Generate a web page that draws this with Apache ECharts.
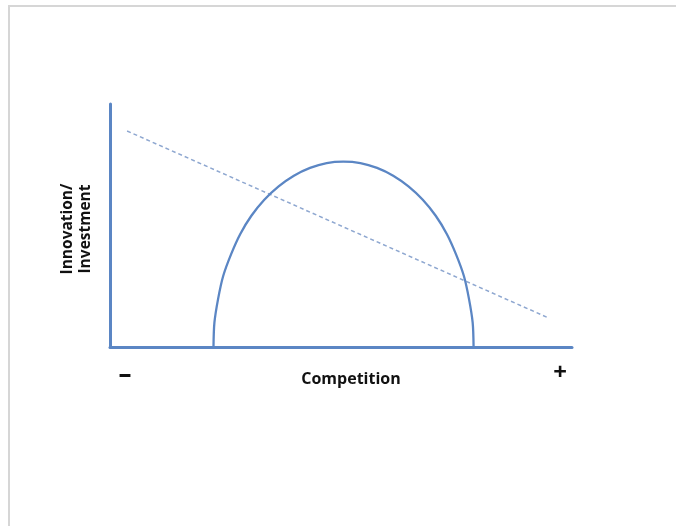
<!DOCTYPE html>
<html>
<head>
<meta charset="utf-8">
<script src="https://cdn.jsdelivr.net/npm/echarts@6/dist/echarts.min.js"></script>
<style>
  html, body { margin: 0; padding: 0; background: #fff; }
  #chart { width: 676px; height: 526px; }
  #frame {
    position: absolute; left: 8px; top: 5px; right: 0; bottom: 0;
    border-left: 2px solid #d6d6d6; border-top: 2px solid #d6d6d6;
    pointer-events: none;
  }
</style>
</head>
<body>
<div id="chart"></div>
<div id="frame"></div>
<script>
// competition on x (0 = "–", 100 = "+"), innovation on y (0..100)
const archX = [22.4, 22.6, 23.4, 24.5, 26.2, 28.2, 30.6, 33.4, 36.5, 39.8, 43.3, 46.9, 50.5,
               54.2, 57.8, 61.3, 64.6, 67.7, 70.5, 72.9, 74.9, 76.6, 77.7, 78.5, 78.7];
const archY = [0, 10.0, 19.8, 29.2, 38.1, 46.5, 54.0, 60.6, 66.1, 70.5, 73.7, 75.7, 76.3,
               75.7, 73.7, 70.5, 66.1, 60.6, 54.0, 46.5, 38.1, 29.2, 19.8, 10.0, 0];
const trendX = [3.7, 95.0];
const trendY = [88.9, 11.9];

const axisLabelText = "Competition";
const yLabelText = "Innovation/\nInvestment";
const lowMark = "–";
const highMark = "+";

const AXIS_BLUE = "#5b86c4";
const FONT = "'Open Sans', 'Liberation Sans', sans-serif";

function pairs(xs, ys) {
  return xs.map((x, i) => [x, ys[i]]);
}

const chart = echarts.init(document.getElementById("chart"));

chart.setOption({
  backgroundColor: "#fff",
  animation: false,
  grid: { left: 110, right: 104, top: 104, bottom: 179 },
  xAxis: {
    type: "value",
    min: 0,
    max: 100,
    axisLine: { show: true, onZero: false, lineStyle: { color: AXIS_BLUE, width: 3 } },
    axisTick: { show: false },
    axisLabel: { show: false },
    splitLine: { show: false }
  },
  yAxis: {
    type: "value",
    min: 0,
    max: 100,
    axisLine: { show: true, onZero: false, lineStyle: { color: AXIS_BLUE, width: 3 } },
    axisTick: { show: false },
    axisLabel: { show: false },
    splitLine: { show: false }
  },
  series: [
    {
      type: "line",
      data: pairs(trendX, trendY),
      showSymbol: false,
      lineStyle: { color: "#8ea7d0", width: 1.5, type: [4, 3] },
      z: 2
    },
    {
      type: "line",
      data: pairs(archX, archY),
      showSymbol: false,
      smooth: 0.3,
      lineStyle: { color: AXIS_BLUE, width: 2.3 },
      z: 3
    }
  ],
  graphic: [
    {
      type: "text",
      x: 351,
      y: 379,
      style: { text: axisLabelText, font: "bold 16px " + FONT, fill: "#111", textAlign: "center", textVerticalAlign: "middle" }
    },
    {
      type: "text",
      x: 125,
      y: 376,
      style: { text: lowMark, font: "bold 26px " + FONT, fill: "#111", textAlign: "center", textVerticalAlign: "middle" }
    },
    {
      type: "text",
      x: 560,
      y: 373,
      style: { text: highMark, font: "bold 24px " + FONT, fill: "#111", textAlign: "center", textVerticalAlign: "middle" }
    },
    {
      type: "text",
      x: 77,
      y: 229,
      rotation: Math.PI / 2,
      style: { text: yLabelText, font: "bold 15.5px " + FONT, lineHeight: 18, fill: "#111", textAlign: "center", textVerticalAlign: "middle" }
    }
  ]
});
</script>
</body>
</html>
